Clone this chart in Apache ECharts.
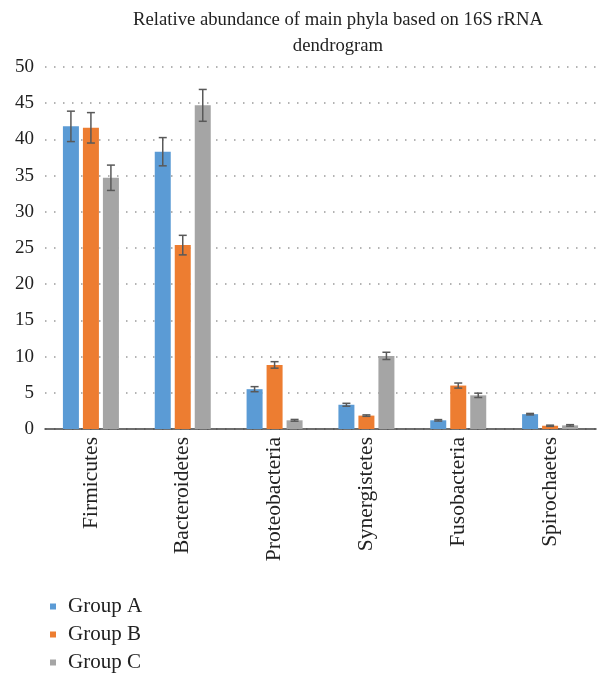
<!DOCTYPE html>
<html>
<head>
<meta charset="utf-8">
<script src="https://cdn.jsdelivr.net/npm/echarts@6/dist/echarts.min.js"></script>
<style>html,body{margin:0;padding:0;background:#fff}#c{width:610px;height:685px}</style>
</head>
<body>
<div id="c"></div>
<script>
const categories = ['Firmicutes','Bacteroidetes','Proteobacteria','Synergistetes','Fusobacteria','Spirochaetes'];
const groupNames = ['Group A','Group B','Group C'];
const groupA = [41.8, 38.3, 5.5, 3.35, 1.2, 2.05];
const groupB = [41.6, 25.4, 8.85, 1.85, 6.0, 0.45];
const groupC = [34.7, 44.7, 1.2, 10.1, 4.65, 0.5];
const errA = [2.1, 1.95, 0.35, 0.2, 0.1, 0.1];
const errB = [2.1, 1.35, 0.45, 0.1, 0.35, 0.08];
const errC = [1.75, 2.2, 0.12, 0.5, 0.3, 0.1];
const yTicks = [0, 5, 10, 15, 20, 25, 30, 35, 40, 45, 50];
const colors = ['#5B9BD5', '#ED7D31', '#A5A5A5'];

const values = [groupA, groupB, groupC];
const errs = [errA, errB, errC];
const BAR_W = 16, GAP = 4;
const FONT = 'Liberation Serif';

const chart = echarts.init(document.getElementById('c'));
const series = [];
values.forEach((vals, si) => {
  series.push({
    name: groupNames[si], type: 'bar', data: vals, barWidth: BAR_W, barGap: '25%',
    itemStyle: { color: colors[si] }
  });
});
values.forEach((vals, si) => {
  const off = (si - 1) * (BAR_W + GAP);
  series.push({
    type: 'custom', silent: true, z: 10,
    data: vals.map((v, i) => [i, v, errs[si][i]]),
    renderItem: function (params, api) {
      const i = api.value(0), v = api.value(1), e = api.value(2);
      const top = api.coord([i, v + e]);
      const bot = api.coord([i, v - e]);
      const x = top[0] + off;
      const cap = 4;
      const st = { stroke: '#595959', lineWidth: 1.5 };
      return { type: 'group', children: [
        { type: 'line', shape: { x1: x, y1: top[1], x2: x, y2: bot[1] }, style: st },
        { type: 'line', shape: { x1: x - cap, y1: top[1], x2: x + cap, y2: top[1] }, style: st },
        { type: 'line', shape: { x1: x - cap, y1: bot[1], x2: x + cap, y2: bot[1] }, style: st }
      ]};
    }
  });
});

chart.setOption({
  animation: false,
  title: {
    text: 'Relative abundance of main phyla based on 16S rRNA\ndendrogram',
    left: 333, top: 2, textAlign: 'center',
    textStyle: { fontFamily: FONT, fontWeight: 'normal', fontSize: 18.7, color: '#222', lineHeight: 26 }
  },
  legend: {
    data: groupNames, orient: 'vertical', left: 45, top: 591,
    icon: 'rect', itemWidth: 6, itemHeight: 6, itemGap: 7,
    textStyle: { fontFamily: FONT, fontSize: 21, color: '#222', padding: [0, 0, 0, 7] }
  },
  grid: { left: 45, right: 14, top: 67, bottom: 256, containLabel: false },
  xAxis: {
    type: 'category', data: categories,
    axisLine: { lineStyle: { color: '#404040', width: 1.5 } },
    axisTick: { show: false },
    axisLabel: { rotate: 90, interval: 0, margin: 8, fontFamily: FONT, fontSize: 21.5, color: '#222' }
  },
  yAxis: {
    type: 'value', min: yTicks[0], max: yTicks[yTicks.length - 1], interval: yTicks[1] - yTicks[0],
    axisLine: { show: false }, axisTick: { show: false },
    axisLabel: { margin: 11, fontFamily: FONT, fontSize: 19, color: '#222' },
    splitLine: { lineStyle: { color: '#9a9a9a', width: 1.5, type: [1.5, 7.5] } }
  },
  series: series
});
</script>
</body>
</html>
